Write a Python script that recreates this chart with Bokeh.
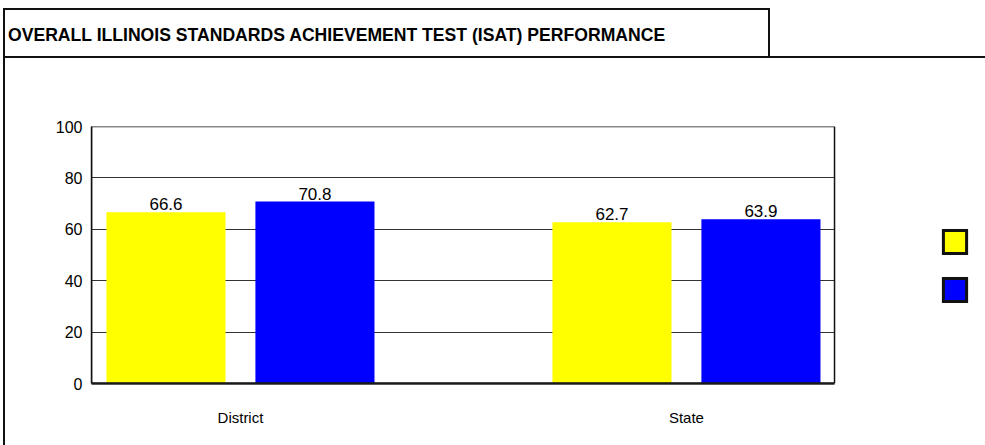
from bokeh.plotting import figure
from bokeh.layouts import column
from bokeh.models import (ColumnDataSource, Range1d, FixedTicker, LabelSet, Legend, LegendItem, Div,
                          BoxAnnotation)
from bokeh.core.properties import value
from bokeh.transform import dodge
from bokeh.embed import file_html
from bokeh.resources import INLINE

title_text = "OVERALL ILLINOIS STANDARDS ACHIEVEMENT TEST (ISAT) PERFORMANCE"
categories = ["District", "State"]
series_yellow = [66.6, 62.7]
series_blue = [70.8, 63.9]
y_ticks = [0, 20, 40, 60, 80, 100]

FONT = "Liberation Sans"

idx = list(range(len(categories)))
src = ColumnDataSource(dict(
    x=idx, a=series_yellow, b=series_blue,
    la=[f"{v:.1f}" for v in series_yellow], lb=[f"{v:.1f}" for v in series_blue],
))

X0, X1, XEND = -0.334, 1.332, 1.6705   # plot area spans X0..X1; the legend sits beyond X1

p = figure(width=980, height=387, output_backend="svg", toolbar_location=None,
           x_range=Range1d(X0, XEND), y_range=Range1d(0, 100),
           min_border_left=86, min_border_top=68, min_border_right=0, min_border_bottom=62,
           margin=0)
p.background_fill_color = "white"
p.border_fill_color = "white"
p.outline_line_color = None

off = 0.167
bw = 0.267
ra = p.vbar(x=dodge("x", -off), top="a", width=bw, source=src, fill_color="#FFFF00", line_color=None)
rb = p.vbar(x=dodge("x", off), top="b", width=bw, source=src, fill_color="#0000FF", line_color=None)
# outline-only copies, hidden in the plot, used to give the legend swatches their black border
oa = p.vbar(x=dodge("x", -off), top="a", width=bw, source=src, fill_color=None,
            line_color="#111111", line_width=3, line_join="miter", visible=False)
ob = p.vbar(x=dodge("x", off), top="b", width=bw, source=src, fill_color=None,
            line_color="#111111", line_width=3, line_join="miter", visible=False)

for col, lab, d in (("a", "la", -off), ("b", "lb", off)):
    p.add_layout(LabelSet(x=dodge("x", d), y=col, text=lab, source=src, text_align="center",
                          text_baseline="bottom", y_offset=2, text_font=value(FONT),
                          text_font_size="17px", text_color="black"))

# axes
p.yaxis.ticker = FixedTicker(ticks=y_ticks)
p.yaxis.major_label_text_font = FONT
p.yaxis.major_label_text_font_size = "16px"
p.yaxis.major_label_text_color = "black"
p.yaxis.major_tick_in = 0
p.yaxis.major_tick_out = 0
p.yaxis.minor_tick_line_color = None
p.yaxis.axis_line_color = "#111111"
p.yaxis.axis_line_width = 1.5
p.yaxis.major_label_standoff = 9

p.xaxis.ticker = FixedTicker(ticks=idx)
p.xaxis.bounds = (X0, X1)
p.xaxis.major_label_overrides = {i: c for i, c in zip(idx, categories)}
p.xaxis.major_label_text_font = FONT
p.xaxis.major_label_text_font_size = "15px"
p.xaxis.major_label_text_color = "black"
p.xaxis.major_tick_in = 0
p.xaxis.major_tick_out = 0
p.xaxis.minor_tick_line_color = None
p.xaxis.axis_line_color = "#222222"
p.xaxis.axis_line_width = 2.5
p.xaxis.major_label_standoff = 25

p.xgrid.grid_line_color = None
p.ygrid.ticker = FixedTicker(ticks=y_ticks)
p.ygrid.grid_line_color = "#333333"
p.ygrid.grid_line_width = 1

# blank the area right of the plot box, then draw the plot box outline
p.add_layout(BoxAnnotation(left=X1, fill_color="white", fill_alpha=1, line_color=None, line_alpha=0))
p.add_layout(BoxAnnotation(right=X1, fill_alpha=0, line_color="#111111", line_alpha=1, line_width=1.5))

legend = Legend(items=[LegendItem(label=" ", renderers=[ra, oa]),
                       LegendItem(label=" ", renderers=[rb, ob])],
                location=(849, 79), glyph_width=29, glyph_height=29, spacing=19,
                label_standoff=0, label_width=0, padding=0, margin=0, click_policy="none",
                border_line_color=None, background_fill_alpha=0)
p.add_layout(legend, "center")

header_html = (
    '<div style="position:relative;width:980px;height:58px;">'
    '<div style="position:absolute;left:0;top:8px;width:765px;height:50px;box-sizing:border-box;'
    'border-top:2px solid #111;border-right:2px solid #111;"></div>'
    '<div style="position:absolute;left:0;top:56px;width:980px;height:0;border-top:2px solid #111;"></div>'
    '<div style="position:absolute;left:3px;top:25px;font-family:\'Liberation Sans\';font-weight:bold;'
    'font-size:17.6px;line-height:20px;color:black;white-space:nowrap;">' + title_text + '</div>'
    '</div>'
)
header = Div(text=header_html, width=980, height=58, margin=0)

layout = column(header, p, spacing=0, margin=0,
                styles={"margin-left": "3px", "padding-left": "2px",
                        "background": "linear-gradient(#111111, #111111) 0 8px / 2px 100% no-repeat"})

open("out.html", "w").write(file_html(layout, INLINE))
